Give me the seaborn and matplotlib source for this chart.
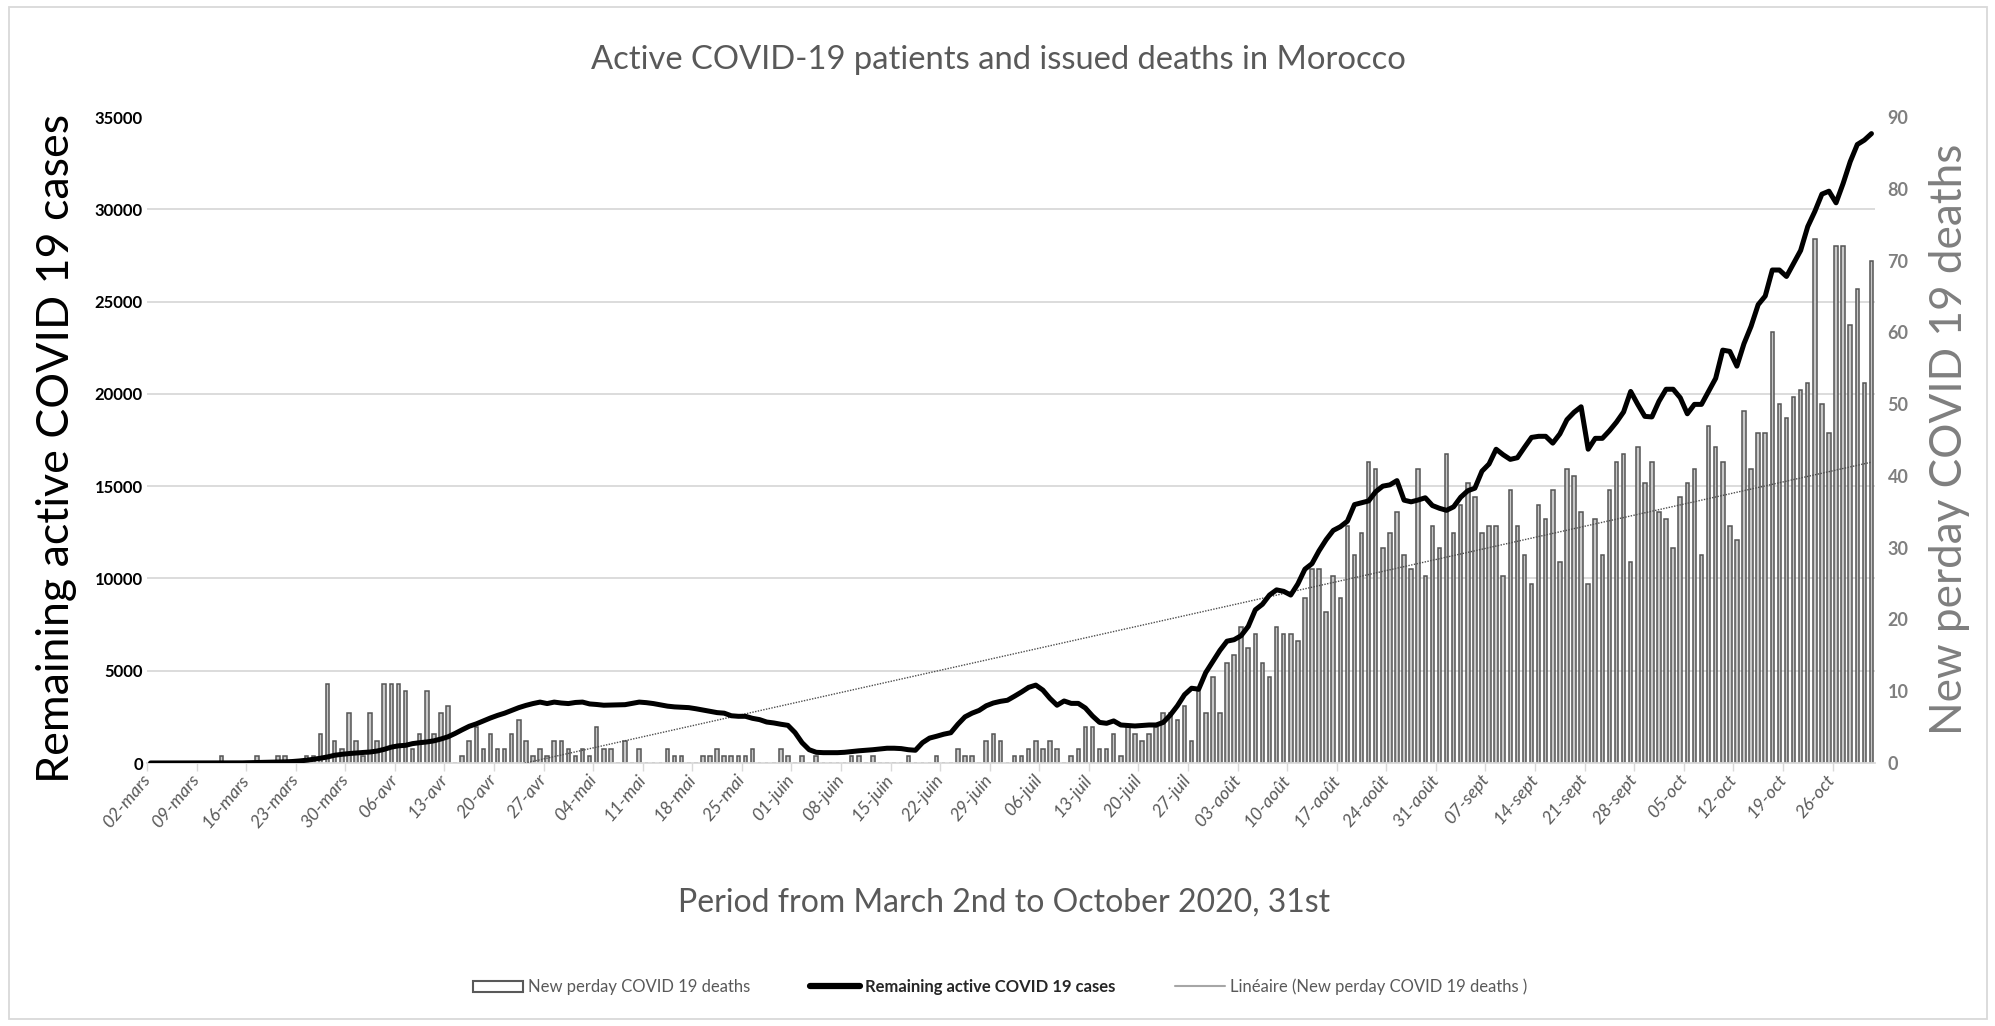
import numpy as np
import pandas as pd
import matplotlib
matplotlib.use("Agg")
import matplotlib.pyplot as plt
import seaborn as sns
from matplotlib.patches import Rectangle, Patch
from matplotlib.lines import Line2D
from matplotlib.ticker import FixedLocator

# ---------------- data ----------------
start_date = "2020-03-02"
n_days = 244

deaths = [
    0, 0, 0, 0, 0, 0, 0, 0, 0, 0,
    1, 0, 0, 0, 0, 1, 0, 0, 1, 1,
    0, 0, 1, 1, 4, 11, 3, 2, 7, 3,
    1, 7, 3, 11, 11, 11, 10, 2, 4, 10,
    4, 7, 8, 0, 1, 3, 5, 2, 4, 2,
    2, 4, 6, 3, 1, 2, 1, 3, 3, 2,
    1, 2, 1, 5, 2, 2, 0, 3, 0, 2,
    0, 0, 0, 2, 1, 1, 0, 0, 1, 1,
    2, 1, 1, 1, 1, 2, 0, 0, 0, 2,
    1, 0, 1, 0, 1, 0, 0, 0, 0, 1,
    1, 0, 1, 0, 0, 0, 0, 1, 0, 0,
    0, 1, 0, 0, 2, 1, 1, 0, 3, 4,
    3, 0, 1, 1, 2, 3, 2, 3, 2, 0,
    1, 2, 5, 5, 2, 2, 4, 1, 5, 4,
    3, 4, 5, 7, 7, 6, 8, 3, 10, 7,
    12, 7, 14, 15, 19, 16, 18, 14, 12, 19,
    18, 18, 17, 23, 27, 27, 21, 26, 23, 33,
    29, 32, 42, 41, 30, 32, 35, 29, 27, 41,
    26, 33, 30, 43, 32, 36, 39, 37, 32, 33,
    33, 26, 38, 33, 29, 25, 36, 34, 38, 28,
    41, 40, 35, 25, 34, 29, 38, 42, 43, 28,
    44, 39, 42, 35, 34, 30, 37, 39, 41, 29,
    47, 44, 42, 33, 31, 49, 41, 46, 46, 60,
    50, 48, 51, 52, 53, 73, 50, 46, 72, 72,
    61, 66, 53, 70,
]

active_cases = [
    1, 1, 1, 1, 1, 1, 1, 2, 2, 2,
    3, 5, 6, 7, 18, 27, 36, 43, 53, 61,
    80, 110, 150, 200, 260, 330, 420, 470, 510, 542,
    570, 596, 650, 740, 860, 930, 958, 1050, 1100, 1140,
    1200, 1300, 1420, 1600, 1800, 1990, 2120, 2280, 2440, 2580,
    2700, 2850, 3000, 3120, 3220, 3300, 3220, 3300, 3250, 3220,
    3280, 3300, 3200, 3170, 3130, 3140, 3150, 3160, 3230, 3300,
    3270, 3220, 3150, 3080, 3040, 3020, 3000, 2940, 2870, 2800,
    2730, 2700, 2560, 2530, 2530, 2420, 2350, 2220, 2170, 2100,
    2040, 1650, 1100, 720, 580, 560, 560, 560, 580, 620,
    660, 690, 720, 760, 800, 800, 780, 720, 690, 1100,
    1350, 1450, 1560, 1640, 2100, 2500, 2700, 2850, 3100, 3250,
    3340, 3400, 3620, 3850, 4100, 4220, 3950, 3500, 3130, 3360,
    3230, 3230, 2980, 2550, 2200, 2150, 2280, 2060, 2030, 2005,
    2030, 2060, 2060, 2200, 2600, 3100, 3700, 4050, 4000, 4900,
    5500, 6100, 6600, 6680, 6900, 7400, 8300, 8600, 9100, 9380,
    9300, 9100, 9700, 10500, 10800, 11500, 12100, 12600, 12800, 13100,
    14000, 14100, 14200, 14700, 15000, 15070, 15300, 14240, 14150, 14250,
    14370, 13950, 13800, 13690, 13880, 14400, 14750, 14890, 15810, 16200,
    17000, 16700, 16450, 16540, 17100, 17640, 17700, 17700, 17330, 17830,
    18600, 19000, 19300, 17000, 17590, 17590, 18000, 18470, 19020, 20130,
    19430, 18780, 18750, 19600, 20250, 20250, 19790, 18920, 19430, 19430,
    20140, 20840, 22370, 22300, 21500, 22720, 23660, 24830, 25300, 26710,
    26710, 26360, 27060, 27770, 29060, 29880, 30820, 30980, 30350, 31400,
    32580, 33510, 33750, 34100,
]

week_labels = [
    "02-mars", "09-mars", "16-mars", "23-mars", "30-mars", "06-avr", "13-avr",
    "20-avr", "27-avr", "04-mai", "11-mai", "18-mai", "25-mai", "01-juin",
    "08-juin", "15-juin", "22-juin", "29-juin", "06-juil", "13-juil", "20-juil",
    "27-juil", "03-août", "10-août", "17-août", "24-août", "31-août", "07-sept",
    "14-sept", "21-sept", "28-sept", "05-oct", "12-oct", "19-oct", "26-oct",
]

left_ticks = [0, 5000, 10000, 15000, 20000, 25000, 30000, 35000]
right_ticks = [0, 10, 20, 30, 40, 50, 60, 70, 80, 90]

title = "Active COVID-19 patients and issued deaths in Morocco"
xlabel = "Period from March 2nd to October 2020, 31st"
ylabel_left = "Remaining active COVID 19 cases"
ylabel_right = "New perday COVID 19 deaths"
leg_labels = ["New perday COVID 19 deaths", "Remaining active COVID 19 cases",
              "Linéaire (New perday COVID 19 deaths )"]

# ---------------- build ----------------
day = np.arange(n_days)
df = pd.DataFrame({"day": day, "deaths": deaths, "active": active_cases})
coef = np.polyfit(df["day"], df["deaths"], 1)
df["trend"] = np.polyval(coef, df["day"])

sns.set_theme(style="white")
plt.rcParams["font.family"] = ["Lato", "DejaVu Sans"]

W, H = 1995, 1026
fig = plt.figure(figsize=(W / 100, H / 100), dpi=100)
x0, x1, yt, yb = 147, 1875, 117, 763
ax = fig.add_axes([x0 / W, 1 - yb / H, (x1 - x0) / W, (yb - yt) / H])
ax2 = ax.twinx()

# bars (deaths) on ax, right scale
sns.barplot(data=df, x="day", y="deaths", native_scale=True, width=0.5,
            color="#c8c8c8", edgecolor="#555555", linewidth=1.1,
            errorbar=None, saturation=1, ax=ax, zorder=2)
ax.plot(df["day"], df["trend"], color="#4d4d4d", lw=1.0, ls=(0, (1, 1)),
        zorder=3)

# line (active cases) on ax2, left scale
sns.lineplot(data=df, x="day", y="active", ax=ax2, color="black", lw=3.6,
             zorder=4)

ax.set_xlim(-0.5, n_days - 0.5)
ax.set_ylim(0, 90)
ax2.set_ylim(0, 35000)

# gridlines matching left axis ticks, drawn under bars
ax.yaxis.set_minor_locator(FixedLocator([t * 90 / 35000 for t in left_ticks]))
ax.grid(which="minor", axis="y", color="#d9d9d9", lw=1.3)
ax.grid(which="major", axis="y", visible=False)
ax.grid(axis="x", visible=False)
ax.set_axisbelow(True)

# y axes
ax.yaxis.tick_right()
ax.set_yticks(right_ticks)
ax.set_yticklabels([str(v) for v in right_ticks], color="#7f7f7f",
                   fontsize=13, fontweight="bold")
ax.tick_params(axis="y", which="both", length=0, pad=9)

ax2.yaxis.tick_left()
ax2.set_yticks(left_ticks)
ax2.set_yticklabels([str(v) for v in left_ticks], color="black",
                    fontsize=12, fontweight="bold")
ax2.tick_params(axis="y", which="both", length=0, pad=3)
ax.set_ylabel("")
ax2.set_ylabel("")

# x axis
ax.set_xticks(np.arange(len(week_labels)) * 7 - 0.5)
ax.set_xticklabels(week_labels, rotation=50, ha="right", va="center",
                   rotation_mode="anchor", color="#595959", fontsize=13,
                   fontstyle="italic")
ax.tick_params(axis="x", length=6, width=1, color="#d9d9d9", direction="out",
               pad=4, bottom=True)
ax.set_xlabel("")
ax2.set_xlabel("")

for a in (ax, ax2):
    for s in a.spines.values():
        s.set_visible(False)
ax.spines["bottom"].set_visible(True)
ax.spines["bottom"].set_color("#d9d9d9")
ax.spines["bottom"].set_linewidth(1.3)

# texts
fig.text(998 / W, 1 - 60 / H, title, ha="center", va="center",
         fontsize=23.6, color="#595959")
fig.text(1004 / W, 1 - 903 / H, xlabel, ha="center", va="center",
         fontsize=23, color="#595959")
fig.text(57 / W, 1 - 448 / H, ylabel_left, ha="center", va="center",
         rotation=90, fontsize=32.2, color="black")
fig.text(1950 / W, 1 - 439 / H, ylabel_right, ha="center", va="center",
         rotation=90, fontsize=31.8, color="#7f7f7f")

# legend
handles = [
    Patch(facecolor="white", edgecolor="#595959", lw=1.5),
    Line2D([], [], color="black", lw=4.5),
    Line2D([], [], color="#a6a6a6", lw=1.5),
]
leg = fig.legend(handles, leg_labels, loc="center", ncol=3, frameon=False,
                 bbox_to_anchor=(1000 / W, 1 - 987 / H), fontsize=12,
                 columnspacing=3.6, handlelength=3.0, handletextpad=0.3)
txts = leg.get_texts()
txts[0].set_color("#595959")
txts[1].set_color("#262626")
txts[1].set_fontweight("bold")
txts[2].set_color("#595959")

# chart border
fig.patches.append(Rectangle((9 / W, 1 - 1019 / H), (1987 - 9) / W,
                             (1019 - 7) / H, transform=fig.transFigure,
                             fill=False, edgecolor="#d9d9d9", lw=1.3))

fig.savefig("out.png", dpi=100)
